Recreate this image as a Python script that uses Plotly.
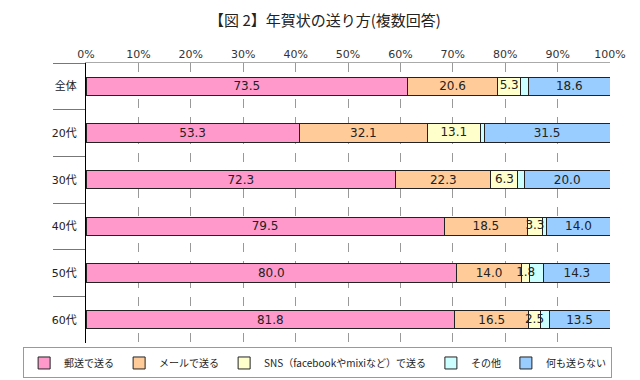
import plotly.graph_objects as go

categories = ["全体", "20代", "30代", "40代", "50代", "60代"]
series_names = ["郵送で送る", "メールで送る", "SNS（facebookやmixiなど）で送る", "その他", "何も送らない"]
mail = [73.5, 53.3, 72.3, 79.5, 80.0, 81.8]
email = [20.6, 32.1, 22.3, 18.5, 14.0, 16.5]
sns = [5.3, 13.1, 6.3, 3.3, 1.8, 2.5]
other = [1.8, 1.0, 1.5, 1.0, 3.0, 2.0]
none_ = [18.6, 31.5, 20.0, 14.0, 14.3, 13.5]
colors = ["#FF99CC", "#FFCC99", "#FFFFCC", "#CCFFFF", "#99CCFF"]
show_labels = [True, True, False, False, True]
tick_vals = list(range(0, 101, 10))

FONT = "DejaVu Sans, Noto Sans CJK JP"
all_series = [mail, email, sns, other, none_]

fig = go.Figure()
for name, vals, col, show in zip(series_names, all_series, colors, show_labels):
    fig.add_trace(go.Bar(
        y=categories, x=vals, name=name, orientation="h",
        marker=dict(color=col, line=dict(color="#222222", width=1)),
        text=[f"{v:.1f}" for v in vals] if show else None,
        textposition="inside", insidetextanchor="middle",
        constraintext="none", textangle=0,
        textfont=dict(family=FONT, size=12, color="#222222"),
        hoverinfo="skip",
    ))

# SNS labels drawn on top (they overflow their narrow segments)
totals = [sum(s[i] for s in all_series) for i in range(len(categories))]
sns_mid = [(mail[i] + email[i] + sns[i] / 2) / totals[i] * 100 for i in range(len(categories))]
fig.add_trace(go.Scatter(
    y=categories, x=sns_mid, mode="text", text=[f"{v:.1f}" for v in sns],
    textposition="middle center", showlegend=False, hoverinfo="skip",
    textfont=dict(family=FONT, size=12, color="#222222"), cliponaxis=False,
))

fig.update_layout(
    width=632, height=372,
    barmode="stack", barnorm="percent", bargap=0.61,
    paper_bgcolor="white", plot_bgcolor="white",
    margin=dict(l=78, r=30, t=55, b=37, autoexpand=False),
    font=dict(family=FONT, size=11, color="#333333"),
    title=dict(text="【図 2】年賀状の送り方(複数回答)", x=0.5016, xanchor="center",
               y=0.967, yanchor="middle",
               font=dict(family="Noto Sans CJK JP", size=15, color="#222222")),
    showlegend=True,
    legend=dict(orientation="h", x=-0.12, xanchor="left",
                y=-0.016, yanchor="top",
                bordercolor="#999999", borderwidth=1,
                font=dict(family="Noto Sans CJK JP", size=10, color="#222222"),
                traceorder="normal", itemwidth=30, tracegroupgap=0),
)
fig.update_xaxes(
    side="top", range=[0, 100], tickvals=tick_vals,
    ticktext=[f"{v}%" for v in tick_vals],
    showgrid=True, gridcolor="#999999", griddash="dash", gridwidth=1,
    showline=True, linecolor="#AAAAAA", linewidth=1, mirror=False,
    ticks="", zeroline=False, fixedrange=True, automargin=False,
    tickfont=dict(family=FONT, size=11, color="#333333"),
)
fig.update_yaxes(
    autorange="reversed", showline=True, linecolor="#000000", linewidth=1,
    ticks="outside", tickson="boundaries", ticklen=32, tickcolor="#777777", tickwidth=1,
    showgrid=False, fixedrange=True, ticklabelstandoff=6, automargin=False,
    tickfont=dict(family=FONT, size=11, color="#222222"),
)

fig.write_html("out.html")
